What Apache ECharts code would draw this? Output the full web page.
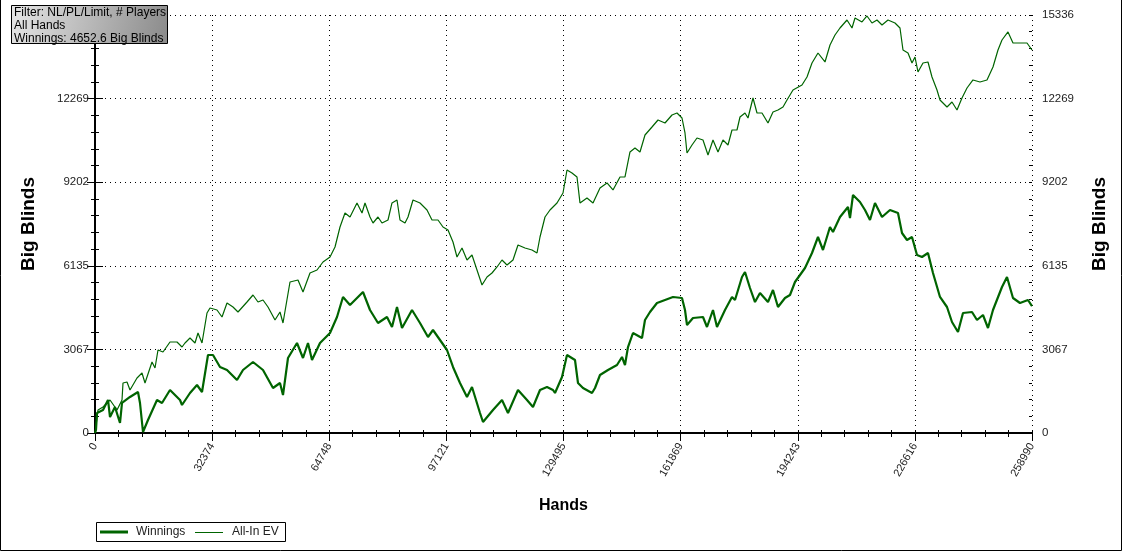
<!DOCTYPE html>
<html>
<head>
<meta charset="utf-8">
<script src="https://cdn.jsdelivr.net/npm/echarts@6/dist/echarts.min.js"></script>
<style>
html,body{margin:0;padding:0;background:#fff;}
#chart{width:1126px;height:555px;}
</style>
</head>
<body>
<div id="chart"></div>
<script>
// ---- data ----
const xTickLabels = ['0','32374','64748','97121','129495','161869','194243','226616','258990'];
const yTickLabels = ['0','3067','6135','9202','12269','15336'];
const xMax = 258990;
const yMax = 15336;
const seriesNames = ['Winnings','All-In EV'];
const infoLines = ['Filter: NL/PL/Limit, # Players','All Hands','Winnings: 4652.6 Big Blinds'];

const winHands = [0,276,553,2211,3593,4146,5528,6910,7463,9674,
11885,12438,13267,14649,17137,18519,20730,23494,24047,26258,
28193,29575,31233,32615,34550,36485,39249,40907,43671,46435,
49199,51134,51963,53345,55833,57491,58873,59979,62190,64954,
66889,68547,70482,72417,74075,76010,78221,80709,82091,83473,
84855,87619,89830,92041,93423,95358,97293,98951,100886,102821,
104203,106414,107243,110007,112495,114153,116917,119405,121063,123000,
124933,126591,127144,129079,130461,132672,133501,134883,137371,138200,
139582,141793,144281,145663,146492,147321,148703,151191,152020,153402,
155337,157548,159759,162247,163076,163629,165287,168051,169157,170815,
171921,174132,176067,176896,178831,179660,181042,182424,183806,186017,
187399,188781,190716,192098,193480,196244,198179,199837,201219,203154,
203983,205918,208129,208682,209511,211446,212828,214210,215592,217527,
219738,221949,223055,224437,225819,227201,228583,230241,231623,233558,
235493,236875,238533,239915,242403,243785,245443,246825,248207,250695,
252077,253735,255670,257881,258990];
const winValues = [0,110,734,844,1211,587,954,367,1101,1321,
1504,1101,37,477,1211,1101,1578,1211,1027,1468,
1761,1504,2862,2862,2422,2311,1945,2311,2605,2311,
1651,1835,1394,2752,3302,2752,3302,2678,3302,3669,
4256,4990,4696,4953,5173,4513,4036,4256,3889,4623,
3852,4513,4036,3522,3779,3412,3045,2422,1835,1321,
1688,734,404,844,1211,734,1578,1211,954,1578,
1688,1578,1468,2055,2862,2678,1835,1651,1468,1651,
2128,2311,2495,2788,2495,3155,3669,3486,4146,4439,
4770,4880,4990,4953,4513,3963,4219,4256,3889,4513,
3889,4513,4990,4880,5724,5907,5320,4806,5137,4806,
5247,4623,4953,5063,5540,6054,6604,7191,6714,7558,
7375,7925,8292,7888,8732,8475,8182,7815,8439,7925,
8182,8072,7338,7081,7191,6531,6457,6604,5870,4990,
4623,4073,3706,4403,4439,4146,4329,3852,4513,5357,
5724,4953,4770,4880,4652.6];

const evHands = [0,829,2211,4146,6081,7463,7739,8845,9674,11609,
12991,13820,15755,16584,17413,18795,20730,22665,24047,24876,
26258,27640,28469,29575,30957,31786,33721,35103,36485,38143,
39525,42013,43671,45053,46435,47817,49752,51134,51963,53898,
56109,57491,59426,61361,63019,64954,66336,67718,69100,70482,
72417,73799,74628,76010,76839,78221,79327,80985,82091,83473,
84302,85684,86513,87895,89830,91765,93147,94805,96187,97569,
98951,100057,101439,102821,104203,105585,106967,108349,109731,111113,
112495,113877,115535,116917,118852,120787,122169,123000,124380,125762,
127697,129355,130461,131843,133225,134054,135989,137647,139582,141517,
143175,145110,146492,147874,149256,150638,152020,153955,155613,157548,
159483,160865,162247,163076,163629,165011,166393,168051,169433,170815,
172197,173579,174961,176067,177449,178278,179660,180489,181871,182977,
184359,186017,187399,188781,190163,191269,192927,195415,196797,198179,
199837,201772,203154,204536,205918,207853,209235,210064,211999,213381,
214763,216145,217527,219185,221120,222502,223331,224713,225819,226648,
227477,228859,230241,231347,232729,233558,235493,236875,238257,239639,
241021,242679,244614,246549,248207,249589,250695,252353,253735,255670,
257605,258990];
const evValues = [0,844,954,1211,844,1211,1835,1871,1578,2018,
2201,1835,2605,2385,3045,2972,3339,3339,3155,3302,
3486,3302,3669,3302,4403,4586,4513,4256,4770,4623,
4439,4806,5063,4806,4880,4623,4146,4439,4036,5540,
5614,5173,5870,5980,6274,6457,6824,7558,8072,7925,
8439,8072,8439,7925,7705,7925,7705,7815,8439,8549,
7815,7705,7925,8549,8439,8182,7815,7815,7558,7448,
7008,6457,6788,6347,6531,5980,5430,5724,5870,6091,
6347,6164,6347,6898,6788,6714,6604,7191,7925,8182,
8439,8806,9649,9539,9393,8439,8622,8439,8989,9173,
8916,9393,9393,10310,10457,10310,10934,11227,11484,11374,
11667,11741,11557,11007,10273,10567,10824,10750,10200,10750,
10310,10750,10567,11117,11117,11594,11741,11557,12291,11741,
11741,11374,11777,11851,11961,12218,12585,12768,13062,13575,
13942,13612,14236,14603,14859,15153,14859,15226,15080,15300,
15043,15153,14970,15153,15043,14859,14052,13942,13575,13795,
13245,13575,13612,13062,12585,12218,11961,12144,11851,12291,
12658,12952,12878,12952,13429,14052,14419,14713,14309,14309,
14309,14052];

// ---- chart ----
const xInterval = xMax / (xTickLabels.length - 1);
const yInterval = yMax / (yTickLabels.length - 1);
const FONT = 'Liberation Sans, Arial, sans-serif';
const GREEN = '#006400';
const zip = (a, b) => a.map((v, i) => [v, b[i]]);

const xFmt = v => { const i = Math.round(v / xInterval); return xTickLabels[i] !== undefined ? xTickLabels[i] : ''; };
const yFmt = v => { const i = Math.round(v / yInterval); return yTickLabels[i] !== undefined ? yTickLabels[i] : ''; };

const dotted = { show: true, lineStyle: { color: '#000', width: 1, type: [1, 4] } };
const blackLine = w => ({ show: true, lineStyle: { color: '#000', width: w } });

function xAx(extra) {
  return Object.assign({
    type: 'value', min: 0, max: xMax, interval: xInterval,
    axisLine: { show: false }, axisTick: { show: false }, minorTick: { show: false },
    axisLabel: { show: false }, splitLine: { show: false }
  }, extra);
}
function yAx(extra) {
  return Object.assign({
    type: 'value', min: 0, max: yMax, interval: yInterval,
    axisLine: { show: false }, axisTick: { show: false }, minorTick: { show: false },
    axisLabel: { show: false }, splitLine: { show: false }
  }, extra);
}

// legend drawn with graphic elements (line samples of each series' own width)
const legendX = 96, legendY = 522;
const legendGraphic = {
  type: 'group', left: legendX, top: legendY, silent: true, z: 100,
  children: [
    { type: 'rect', z: 100, shape: { x: 0.5, y: 0.5, width: 189, height: 19 }, style: { fill: '#fff', stroke: '#000', lineWidth: 1 } },
    { type: 'line', z: 101, shape: { x1: 4, y1: 10, x2: 32, y2: 10 }, style: { stroke: GREEN, lineWidth: 3 } },
    { type: 'text', z: 101, x: 40, y: 10, style: { text: seriesNames[0], fill: '#222', font: '12px ' + FONT, verticalAlign: 'middle' } },
    { type: 'line', z: 101, shape: { x1: 99, y1: 10.5, x2: 127, y2: 10.5 }, style: { stroke: GREEN, lineWidth: 1 } },
    { type: 'text', z: 101, x: 136, y: 10, style: { text: seriesNames[1], fill: '#222', font: '12px ' + FONT, verticalAlign: 'middle' } }
  ]
};

const chart = echarts.init(document.getElementById('chart'), null, { renderer: 'canvas' });
chart.setOption({
  backgroundColor: '#fff',
  animation: false,
  grid: { left: 95, right: 94, top: 15, bottom: 122, containLabel: false },
  xAxis: [
    xAx({
      position: 'bottom',
      axisLine: blackLine(2),
      axisTick: { show: true, inside: false, length: 8, lineStyle: { color: '#000', width: 1 } },
      minorTick: { show: true, splitNumber: 5, length: 4, lineStyle: { color: '#000', width: 1 } },
      axisLabel: { show: true, rotate: 60, margin: 11, formatter: xFmt, fontFamily: FONT, fontSize: 11, color: '#222' },
      splitLine: dotted,
      name: 'Hands', nameLocation: 'middle', nameGap: 65,
      nameTextStyle: { fontFamily: FONT, fontSize: 16, fontWeight: 'bold', color: '#000' }
    }),
    xAx({
      position: 'bottom',
      axisTick: { show: true, inside: true, length: 3, lineStyle: { color: '#000', width: 1 } },
      minorTick: { show: true, splitNumber: 5, length: 3, lineStyle: { color: '#000', width: 1 } }
    }),
    xAx({
      position: 'top',
      axisLine: blackLine(1),
      axisTick: { show: true, inside: true, length: 4, lineStyle: { color: '#000', width: 1 } },
      minorTick: { show: true, splitNumber: 5, length: 4, lineStyle: { color: '#000', width: 1 } }
    })
  ],
  yAxis: [
    yAx({
      position: 'left',
      axisLine: blackLine(2),
      axisTick: { show: true, inside: false, length: 8, lineStyle: { color: '#000', width: 1 } },
      minorTick: { show: true, splitNumber: 5, length: 4, lineStyle: { color: '#000', width: 1 } },
      axisLabel: { show: true, margin: 6, formatter: yFmt, fontFamily: FONT, fontSize: 11.5, color: '#222' },
      splitLine: dotted,
      name: 'Big Blinds', nameLocation: 'middle', nameGap: 57, nameRotate: 90,
      nameTextStyle: { fontFamily: FONT, fontSize: 19, fontWeight: 'bold', color: '#000' }
    }),
    yAx({
      position: 'right',
      axisLine: blackLine(2),
      axisTick: { show: true, inside: false, length: 8, lineStyle: { color: '#000', width: 1 } },
      minorTick: { show: true, splitNumber: 5, length: 4, lineStyle: { color: '#000', width: 1 } },
      axisLabel: { show: true, margin: 10, formatter: yFmt, fontFamily: FONT, fontSize: 11.5, color: '#222' },
      name: 'Big Blinds', nameLocation: 'middle', nameGap: 58, nameRotate: 90,
      nameTextStyle: { fontFamily: FONT, fontSize: 19, fontWeight: 'bold', color: '#000' }
    }),
    yAx({
      position: 'left',
      axisTick: { show: true, inside: true, length: 3, lineStyle: { color: '#000', width: 1 } },
      minorTick: { show: true, splitNumber: 5, length: 3, lineStyle: { color: '#000', width: 1 } }
    }),
    yAx({
      position: 'right',
      axisTick: { show: true, inside: true, length: 3, lineStyle: { color: '#000', width: 1 } },
      minorTick: { show: true, splitNumber: 5, length: 3, lineStyle: { color: '#000', width: 1 } }
    })
  ],
  series: [
    {
      name: seriesNames[0], type: 'line', xAxisIndex: 0, yAxisIndex: 0,
      data: zip(winHands, winValues), symbol: 'none', smooth: false,
      lineStyle: { color: GREEN, width: 2.2 }, itemStyle: { color: GREEN }, z: 3
    },
    {
      name: seriesNames[1], type: 'line', xAxisIndex: 0, yAxisIndex: 0,
      data: zip(evHands, evValues), symbol: 'none', smooth: false,
      lineStyle: { color: GREEN, width: 1.2 }, itemStyle: { color: GREEN }, z: 3
    }
  ],
  graphic: [
    {
      type: 'polyline', silent: true, z: 100,
      shape: { points: [[0.5, 0], [0.5, 550.5], [1121.5, 550.5], [1121.5, 0]] },
      style: { stroke: '#000', lineWidth: 1, fill: null }
    },
    legendGraphic,
    {
      type: 'group', left: 11, top: 5, silent: true, z: 100,
      children: [
        {
          type: 'rect', z: 100, shape: { x: 0.5, y: 0.5, width: 156, height: 38 },
          style: {
            fill: new echarts.graphic.LinearGradient(0, 0, 1, 1, [
              { offset: 0, color: '#e6e6e6' }, { offset: 1, color: '#8a8a8a' }
            ]),
            stroke: '#000', lineWidth: 1
          }
        },
        {
          type: 'text', z: 101, x: 3, y: 1.5,
          style: {
            text: infoLines.join('\n'), fill: '#000',
            font: '12px ' + FONT, lineHeight: 12.7
          }
        }
      ]
    }
  ]
});
</script>
</body>
</html>
